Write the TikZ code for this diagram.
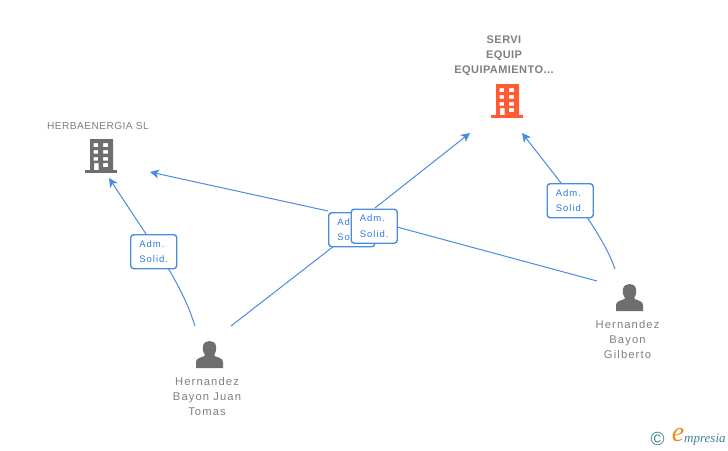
\documentclass[tikz,border=0pt]{standalone}
\usepackage{fontspec}
\usepackage{tikz}
\usetikzlibrary{arrows.meta}
\setmainfont{Liberation Sans}
\newfontfamily\spaced[LetterSpace=10]{Liberation Sans}
\newfontfamily\tightspaced[LetterSpace=4]{Liberation Sans}
\newfontfamily\logofont{Liberation Serif}
\definecolor{linkblue}{HTML}{4A8BE0}
\definecolor{boxblue}{HTML}{2F7BE6}
\definecolor{labelgray}{HTML}{7F7F7F}
\definecolor{icongray}{HTML}{6E6E6E}
\definecolor{iconred}{HTML}{FF5C33}
\definecolor{logoteal}{HTML}{3F8296}
\definecolor{logoorange}{HTML}{F08A1D}
\tikzset{
    linkline/.style={draw=linkblue,line width=1pt},
    linkarrow/.style={linkline,-{Stealth[length=9pt,width=9pt,inset=2.5pt]}},
    rolebox/.style={draw=linkblue,line width=1.4pt,rounded corners=3pt,fill=white,text=boxblue,
        minimum width=46pt,minimum height=34pt,inner sep=0pt,align=left,
        font=\spaced\fontsize{9.5}{15.5}\selectfont},
    namelabel/.style={text=labelgray,align=center,inner sep=0pt,
        font=\spaced\fontsize{11.2}{15}\selectfont},
    firmlabel/.style={text=labelgray,align=center,inner sep=0pt,
        font=\tightspaced\fontsize{10.2}{14}\selectfont},
    companylabel/.style={text=labelgray,align=center,inner sep=0pt,
        font=\tightspaced\bfseries\fontsize{11}{15}\selectfont}
}
% building icon, anchored at its top left corner
\newcommand{\buildingicon}[3]{
    \begin{scope}[shift={(#1,#2)}]
        \fill[#3,even odd rule] (0,0) rectangle (23,31)
            (3.5,4) rectangle (8,8) (13,4) rectangle (18,8)
            (3.5,11) rectangle (8,14.5) (13,11) rectangle (18,14.5)
            (3.5,18) rectangle (8,21.5) (13,18) rectangle (18,21.5)
            (4,24) rectangle (8.5,31) (13,24) rectangle (18,28);
        \fill[#3] (-5,31) rectangle (27,34);
    \end{scope}
}
% person icon, anchored at the top of the head
\newcommand{\personicon}[2]{
    \begin{scope}[shift={(#1,#2)}]
        \fill[icongray] (-13.5,27) -- (-13.5,21) .. controls (-13.5,17.5) and (-9,16.5) .. (-5,15)
            -- (-5,13) .. controls (-7,10) and (-7,7) .. (-6.5,5)
            .. controls (-6,1.5) and (-3,0) .. (0,0)
            .. controls (3,0) and (6,1.5) .. (6.5,5)
            .. controls (7,7) and (7,10) .. (5,13) -- (5,15)
            .. controls (9,16.5) and (13.5,17.5) .. (13.5,21) -- (13.5,27) -- cycle;
    \end{scope}
}
\begin{document}
\begin{tikzpicture}[x=1pt,y=-1pt]
    \useasboundingbox (0,0) rectangle (728,450);

    \buildingicon{496}{84}{iconred}
    \buildingicon{90}{139}{icongray}
    \personicon{209.5}{341}
    \personicon{629.5}{284}

    \node[companylabel] (servi) at (504,55.5) {SERVI\\EQUIP\\EQUIPAMIENTO...};
    \node[firmlabel] (herba) at (98,125.5) {HERBAENERGIA SL};
    \node[namelabel] (juan) at (207,396) {Hernandez\\Bayon Juan\\Tomas};
    \node[namelabel] (gilberto) at (627.5,339) {Hernandez\\Bayon\\Gilberto};

    \coordinate (herbaleft) at (109,178);
    \coordinate (herbaright) at (150,172);
    \coordinate (servileft) at (470,133);
    \coordinate (serviright) at (522,133);
    \coordinate (juanleft) at (195,326);
    \coordinate (juanright) at (231,326);
    \coordinate (gilbertoleft) at (597,281);
    \coordinate (gilbertoright) at (615,269);
    \coordinate (juanbelow) at (168,268);
    \coordinate (juanabove) at (146,234);
    \coordinate (gilbertobelow) at (587,217);
    \coordinate (gilbertoabove) at (561,183);

    \draw[linkline] (juanleft) .. controls (189,307) and (181,290) .. (juanbelow);
    \draw[linkarrow] (juanabove) -- (herbaleft);
    \draw[linkline] (gilbertoright) .. controls (609,252) and (600,237) .. (gilbertobelow);
    \draw[linkarrow] (gilbertoabove) -- (serviright);
    \draw[linkline] (juanright) -- (334,246);
    \draw[linkarrow] (375,208) -- (servileft);
    \draw[linkline] (gilbertoleft) -- (397,227);
    \draw[linkarrow] (328,211) -- (herbaright);

    \node[rolebox,anchor=north west] (rolejuan) at (130,234) {Adm.\\Solid.};
    \node[rolebox,anchor=north west] (rolegilberto) at (546.5,183) {Adm.\\Solid.};
    \node[rolebox,anchor=north west] (rolesgilberto) at (328,212) {Adm.\\Solid.};
    \node[rolebox,anchor=north west] (rolesjuan) at (350.5,208.5) {Adm.\\Solid.};

    \node[inner sep=0pt,text=logoteal,font=\fontsize{19}{19}\selectfont] (copyr) at (657.5,438.5) {\char"00A9};
    \node[inner sep=0pt,text=logoorange,font=\logofont\itshape\fontsize{28}{28}\selectfont] (logoe) at (678,435.5) {e};
    \node[inner sep=0pt,anchor=base west,text=logoteal,font=\logofont\itshape\fontsize{13}{13}\selectfont] (logotext) at (684,442) {mpresia};
\end{tikzpicture}
\end{document}
